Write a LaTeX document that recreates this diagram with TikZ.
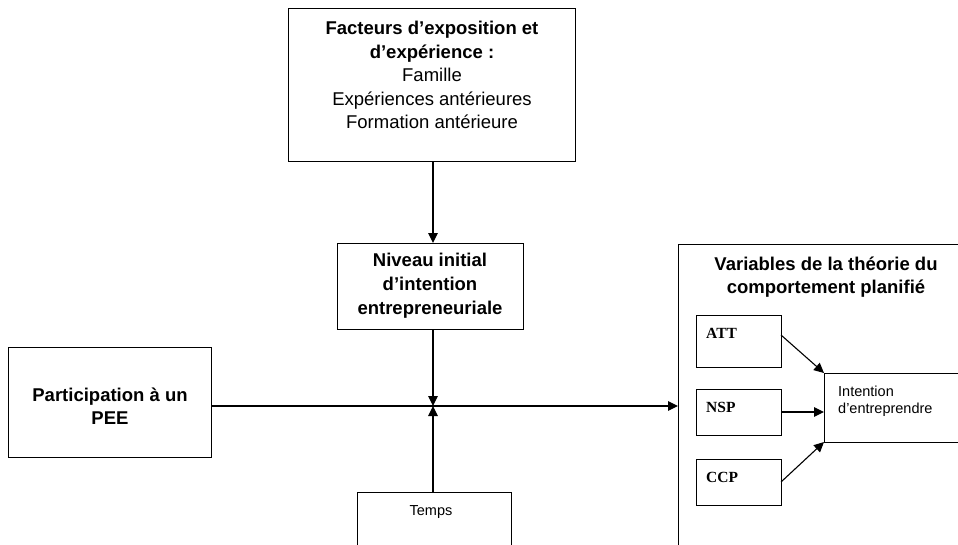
\documentclass[tikz,border=0pt]{standalone}
\usepackage{fontspec}
\setmainfont{Liberation Sans}
\newfontfamily\serifb{Liberation Serif}
\usetikzlibrary{arrows.meta}
\begin{document}
\begin{tikzpicture}[x=1pt,y=-1pt,
  box/.style={draw, line width=1pt, rectangle, inner sep=0pt, outer sep=0pt},
  arr/.style={line width=1.1pt, -{Triangle[length=10pt,width=9.5pt]}},
  big/.style={font=\fontsize{18.5}{23.5}\selectfont, align=center, inner sep=0pt},
  small/.style={font=\fontsize{14.5}{17.5}\selectfont, align=left, inner sep=0pt},
  lab/.style={font=\serifb\bfseries\fontsize{15.5}{16}\selectfont, inner sep=0pt, anchor=west}
]
\useasboundingbox (0,0) rectangle (958,544);
\clip (0,0) rectangle (958,544);
\fill[white] (0,0) rectangle (958,544);

% boxes
\node[box, minimum width=287pt, minimum height=153pt] (fact) at (431.5,84.5) {};
\node[big] (factT) at (432,75) {\textbf{Facteurs d’exposition et}\\\textbf{d’expérience :}\\Famille\\Expériences antérieures\\Formation antérieure};

\node[box, minimum width=186pt, minimum height=86pt] (niv) at (430,286) {};
\node[big, font=\bfseries\fontsize{18.5}{24}\selectfont] (nivT) at (430,286) {Niveau initial\\d’intention\\entrepreneuriale};

\node[box, minimum width=203pt, minimum height=110pt] (part) at (109.5,402) {};
\node[big, font=\bfseries\fontsize{18.5}{23.5}\selectfont] (partT) at (110,406) {Participation à un\\PEE};

\node[box, minimum width=154pt, minimum height=80pt] (temps) at (434,532) {};
\node[small, font=\fontsize{14.5}{16}\selectfont] (tempsT) at (431,512) {Temps};

\node[box, minimum width=300pt, minimum height=330pt] (var) at (828,409) {};
\node[big, font=\bfseries\fontsize{18.5}{23}\selectfont] (varT) at (826,277.5) {Variables de la théorie du\\comportement planifié};

\node[box, minimum width=85pt, minimum height=52pt] (att) at (738.5,341) {};
\node[box, minimum width=85pt, minimum height=46pt] (nsp) at (738.5,412) {};
\node[box, minimum width=85pt, minimum height=46pt] (ccp) at (738.5,482) {};
\node[lab] (attT) at (706,333) {ATT};
\node[lab] (nspT) at (706,407) {NSP};
\node[lab] (ccpT) at (706,477) {CCP};

\node[box, minimum width=160pt, minimum height=69pt] (int) at (904,407.5) {};
\node[small, anchor=west] (intT) at (838,401) {Intention\\d’entreprendre};

% connectors
\coordinate (j) at (433,406);
\draw[arr] (fact.south -| j) -- (niv.north -| j);
\draw[arr] (niv.south -| j) -- (j);
\draw[arr] (temps.north -| j) -- (j);
\draw[arr] (part.east |- j) -- (var.west |- j);

\draw[arr] (att.east |- 0,335) -- (int.north west);
\draw[arr] (nsp.east |- 0,412) -- (int.west |- 0,412);
\draw[arr] (ccp.east |- 0,482) -- (int.south west);
\end{tikzpicture}
\end{document}
